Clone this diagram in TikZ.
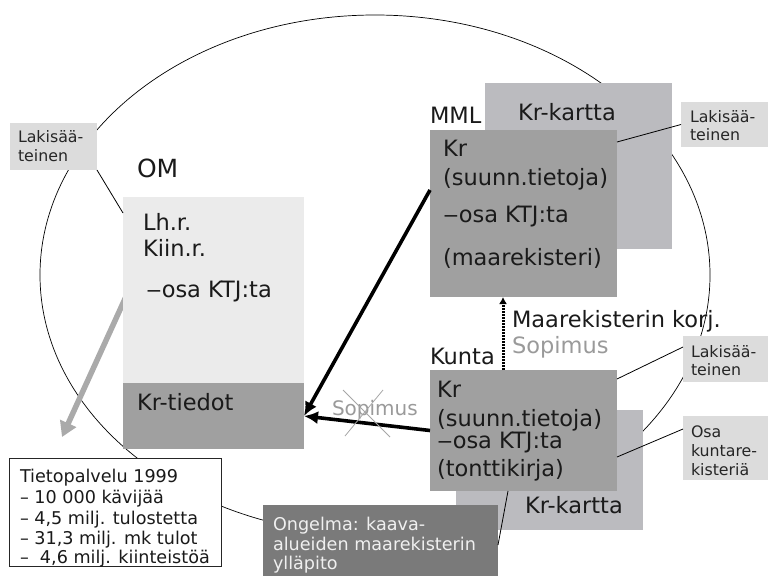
\documentclass[tikz,border=0pt]{standalone}
\usepackage{fontspec}
\setmainfont{DejaVu Sans}
\usetikzlibrary{arrows.meta,shapes.geometric}
\pgfdeclarelayer{bg}
\pgfsetlayers{bg,main}
\definecolor{omfill}{HTML}{EBEBEB}
\definecolor{krfill}{HTML}{A0A0A0}
\definecolor{kkfill}{HTML}{BBBBBF}
\definecolor{lakfill}{HTML}{DCDCDC}
\definecolor{ongfill}{HTML}{7A7A7A}
\definecolor{txtc}{HTML}{1A1A1A}
\definecolor{soptxt}{HTML}{9A9A9A}
\definecolor{greyarr}{HTML}{AAAAAA}
\newcommand\FntMain{\fontsize{22.5}{27}\selectfont}
\newcommand\FntOM{\fontsize{25}{30}\selectfont}
\newcommand\FntSm{\fontsize{15.8}{19}\selectfont}
\newcommand\FntInfo{\fontsize{17.6}{21}\selectfont}
\newcommand\FntSop{\fontsize{20}{24}\selectfont}
\newcommand\WideDash{\scalebox{1.4}[1]{–}}
\tikzset{
  boxshape/.style={rectangle, inner sep=0pt, outer sep=0pt, draw=none, anchor=north west},
  txt/.style={anchor=base west, inner sep=0pt, outer sep=0pt, text=txtc},
  maintxt/.style={txt, font=\FntMain},
  smtxt/.style={txt, font=\FntSm, text=black!85},
  infotxt/.style={txt, font=\FntInfo},
  callout/.style={draw=black, line width=0.8pt},
  bigarrow/.style={draw=black, line width=3.6pt, -{Latex[length=14pt,width=13pt]}},
}
\begin{document}
\begin{tikzpicture}[x=1pt,y=-1pt]
\useasboundingbox (0,0) rectangle (770,575);

% boxes
\node[boxshape, fill=lakfill, minimum width=87pt, minimum height=47pt] (lak1) at (10,123) {};
\node[boxshape, fill=omfill, minimum width=181pt, minimum height=186pt] (om) at (123,197) {};
\node[boxshape, fill=krfill, minimum width=181pt, minimum height=66pt] (krt) at (123,383) {};
\node[boxshape, fill=kkfill, minimum width=187pt, minimum height=166pt] (kk1) at (485,83) {};
\node[boxshape, fill=krfill, minimum width=187pt, minimum height=167pt] (mml) at (430,130) {};
\node[boxshape, fill=lakfill, minimum width=87pt, minimum height=45pt] (lak2) at (681,102) {};
\node[boxshape, fill=kkfill, minimum width=187pt, minimum height=120pt] (kk2) at (456,410) {};
\node[boxshape, fill=krfill, minimum width=187pt, minimum height=121pt] (kun) at (430,370) {};
\node[boxshape, fill=lakfill, minimum width=85pt, minimum height=46pt] (lak3) at (683,336) {};
\node[boxshape, fill=lakfill, minimum width=85pt, minimum height=64pt] (osa) at (683,416) {};
\node[boxshape, fill=white, draw=black!85, line width=1pt, minimum width=212pt, minimum height=108pt] (tiet) at (9,458) {};
\node[boxshape, fill=ongfill, minimum width=235pt, minimum height=72pt] (ong) at (263,505) {};

% background: big ellipse and grey arrow
\begin{pgfonlayer}{bg}
\node[draw=black, ellipse, line width=0.7pt, inner sep=0pt, minimum width=670pt, minimum height=520pt] (world) at (375,275) {};
\coordinate (greytip) at (62,437);
\draw[greyarr, line width=5.5pt, -{Triangle[length=15pt,width=17pt]}] ([xshift=6pt]om.west) -- (greytip);
\end{pgfonlayer}

% callout lines
\draw[callout] (lak1.south east) -- ([yshift=-16pt]om.north west);
\draw[callout] (lak2.west) -- ([yshift=-12pt]mml.north east);
\draw[callout] ([yshift=12pt]lak3.west) -- ([yshift=-9pt]kun.north east);
\draw[callout] ([yshift=19pt]osa.west) -- ([yshift=-26.5pt]kun.east);
\draw[callout] ([yshift=-4pt]ong.east) -- ([xshift=-15.5pt]kun.south);

% arrows
\draw[bigarrow] ([yshift=23.5pt]mml.west) -- (krt.east);
\draw[bigarrow] (kun.west) -- (krt.east);
\draw[line width=3pt, dash pattern=on 1.6pt off 1.4pt, -{Latex[length=7pt,width=8pt]}]
  ([xshift=-20.5pt]kun.north) -- ([xshift=-20.5pt]mml.south);

% labels
\node[txt, font=\FntOM] (omlab) at (137,177) {OM};
\node[maintxt] (mmllab) at (430,124) {MML};
\node[maintxt] (kuntalab) at (430,364) {Kunta};
\node[maintxt] (kk1t) at (518,121) {Kr-kartta};
\node[maintxt] (kk2t) at (525,513) {Kr-kartta};

% OM box text
\node[maintxt] (omt1) at (143,230) {Lh.r.};
\node[maintxt] (omt2) at (143,256) {Kiin.r.};
\node[maintxt] (omt3) at (146,297) {\WideDash osa KTJ:ta};
\node[maintxt] (krtt) at (137,410) {Kr-tiedot};

% MML box text
\node[maintxt] (mmlt1) at (443,156) {Kr};
\node[maintxt] (mmlt2) at (443,185) {(suunn.tietoja)};
\node[maintxt] (mmlt3) at (443,222) {\WideDash osa KTJ:ta};
\node[maintxt] (mmlt4) at (443,265) {(maarekisteri)};

% Kunta box text
\node[maintxt] (kunt1) at (437,397) {Kr};
\node[maintxt] (kunt2) at (437,426) {(suunn.tietoja)};
\node[maintxt] (kunt3) at (437,448) {\WideDash osa KTJ:ta};
\node[maintxt] (kunt4) at (437,476) {(tonttikirja)};

% dotted arrow labels
\node[maintxt] (korj) at (512,327) {Maarekisterin korj.};
\node[maintxt, text=soptxt] (sop1) at (512,353) {Sopimus};

% crossed Sopimus
\node[txt, font=\FntSop, text=soptxt] (sop2) at (332,415) {Sopimus};
\coordinate (xa1) at (343,390);
\coordinate (xa2) at (390,437);
\coordinate (xb1) at (345,436);
\coordinate (xb2) at (383,390);
\draw[black!35, line width=0.8pt] (xa1) -- (xa2);
\draw[black!35, line width=0.8pt] (xb1) -- (xb2);

% small label boxes
\node[smtxt] (lak1a) at (18,142) {Lakisää-};
\node[smtxt] (lak1b) at (18,161) {teinen};
\node[smtxt] (lak2a) at (690,122) {Lakisää-};
\node[smtxt] (lak2b) at (690,140) {teinen};
\node[smtxt] (lak3a) at (691,357) {Lakisää-};
\node[smtxt] (lak3b) at (691,375) {teinen};
\node[smtxt] (osaa) at (691,437) {Osa};
\node[smtxt] (osab) at (691,456) {kuntare-};
\node[smtxt] (osac) at (691,475) {kisteriä};

% Tietopalvelu
\node[infotxt] (tp1) at (20,482) {Tietopalvelu 1999};
\node[infotxt] (tp2) at (20,503) {– 10 000 kävijää};
\node[infotxt] (tp3) at (20,524) {– 4,5 milj. tulostetta};
\node[infotxt] (tp4) at (20,544) {– 31,3 milj. mk tulot};
\node[infotxt] (tp5) at (20,563) {–\ \ 4,6 milj. kiinteistöä};

% Ongelma
\node[infotxt, text=white!94!black] (on1) at (273,530) {Ongelma: kaava-};
\node[infotxt, text=white!94!black] (on2) at (273,550) {alueiden maarekisterin};
\node[infotxt, text=white!94!black] (on3) at (273,569) {ylläpito};
\end{tikzpicture}
\end{document}
